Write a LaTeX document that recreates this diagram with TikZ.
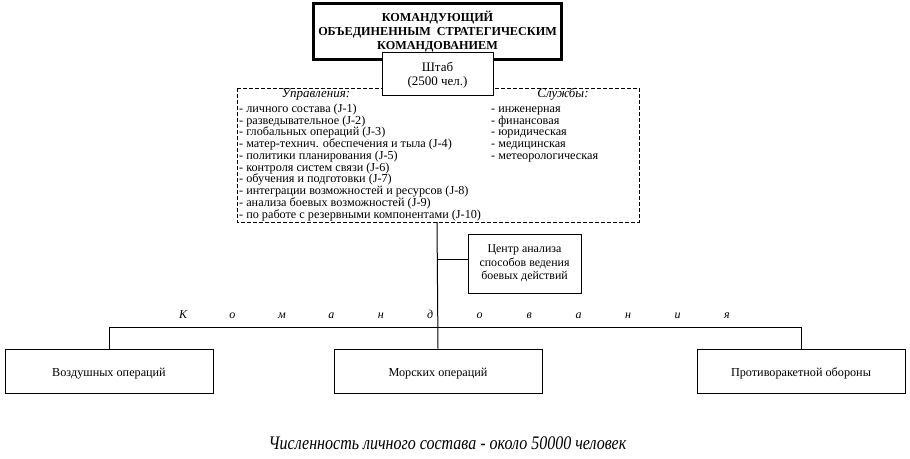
\documentclass[tikz,border=0pt]{standalone}
\usepackage{fontspec}
\setmainfont{Liberation Serif}
\begin{document}
\begin{tikzpicture}[x=1pt,y=-1pt,
  every node/.style={inner sep=0pt},
  box/.style={draw,line width=1pt,fill=white,align=center},
  conn/.style={line width=1pt},
  listtxt/.style={anchor=base west,font=\fontsize{12.2}{12}\selectfont},
  spaced/.style={anchor=base,font=\fontsize{12}{12}\selectfont\itshape}]
\useasboundingbox (0,0) rectangle (910,458);
% dashed box
\draw[line width=0.8pt,dash pattern=on 4pt off 2pt] (237,88) rectangle (639,222);
\coordinate (dtop) at (437,222);
% top commander box
\node[box,line width=3pt,minimum width=248pt,minimum height=56pt,
  font=\fontsize{12.2}{14}\selectfont\bfseries] (cmd) at (437.5,31.5)
  {КОМАНДУЮЩИЙ\\ОБЪЕДИНЕННЫМ\ \ СТРАТЕГИЧЕСКИМ\\КОМАНДОВАНИЕМ};
% staff
\node[box,minimum width=111pt,minimum height=43pt,font=\fontsize{13}{13.5}\selectfont] (hq) at (437.5,73.5)
  {\raisebox{-2.5pt}[\height][\depth]{\begin{tabular}{@{}c@{}}Штаб\\(2500 чел.)\end{tabular}}};
% headings
\node[anchor=base,font=\fontsize{13}{12}\selectfont\itshape] (hupr) at (316,97) {Управления:};
\node[anchor=base,font=\fontsize{13}{12}\selectfont\itshape] (hsl) at (563,97) {Службы:};
\foreach \t [count=\i] in {{- личного состава (J-1)},{- разведывательное (J-2)},{- глобальных операций (J-3)},
  {- матер-технич. обеспечения и тыла (J-4)},{- политики планирования (J-5)},{- контроля систем связи (J-6)},
  {- обучения и подготовки (J-7)},{- интеграции возможностей и ресурсов (J-8)},{- анализа боевых возможностей (J-9)},
  {- по работе с резервными компонентами (J-10)}}
  \node[listtxt] (u\i) at (239,{112.3+11.75*(\i-1)}) {\t};
\foreach \t [count=\i] in {{- инженерная},{- финансовая},{- юридическая},{- медицинская},{- метеорологическая}}
  \node[listtxt] (s\i) at (491,{112.3+11.75*(\i-1)}) {\t};
% analysis centre
\node[box,minimum width=113pt,minimum height=59pt,font=\fontsize{11.9}{13.5}\selectfont] (ctr) at (524.5,263.5)
  {Центр анализа\\способов ведения\\боевых действий};
% bottom boxes
\tikzset{lower/.style={box,minimum width=208pt,minimum height=44pt,font=\fontsize{12.2}{12}\selectfont}}
\node[lower] (air) at (109,371) {\raisebox{-2.5pt}[\height][\depth]{Воздушных операций}};
\node[lower] (sea) at (438,371) {\raisebox{-2.5pt}[\height][\depth]{Морских операций}};
\node[lower] (abm) at (801,371) {\raisebox{-2pt}[\height][\depth]{Противоракетной обороны}};
% spaced word
\foreach \c [count=\i] in {К,о,м,а,н,д,о,в,а,н,и,я}
  \node[spaced] (k\i) at ({183+49.45*(\i-1)},318.5) {\c};
% connectors
\coordinate (bus) at (437,327);
\coordinate (ctrj) at (437,259);
\draw[conn] (dtop) -- (sea.north);
\draw[conn] (ctrj) -- (ctrj -| ctr.west);
\draw[conn] (air.north) -- (air.north |- bus) -- (abm.north |- bus) -- (abm.north);
% caption
\node[font=\fontsize{16}{18}\selectfont\itshape] (cap) at (447.5,443) {\scalebox{1}[1.2]{Численность личного состава - около 50000 человек}};
\end{tikzpicture}
\end{document}
